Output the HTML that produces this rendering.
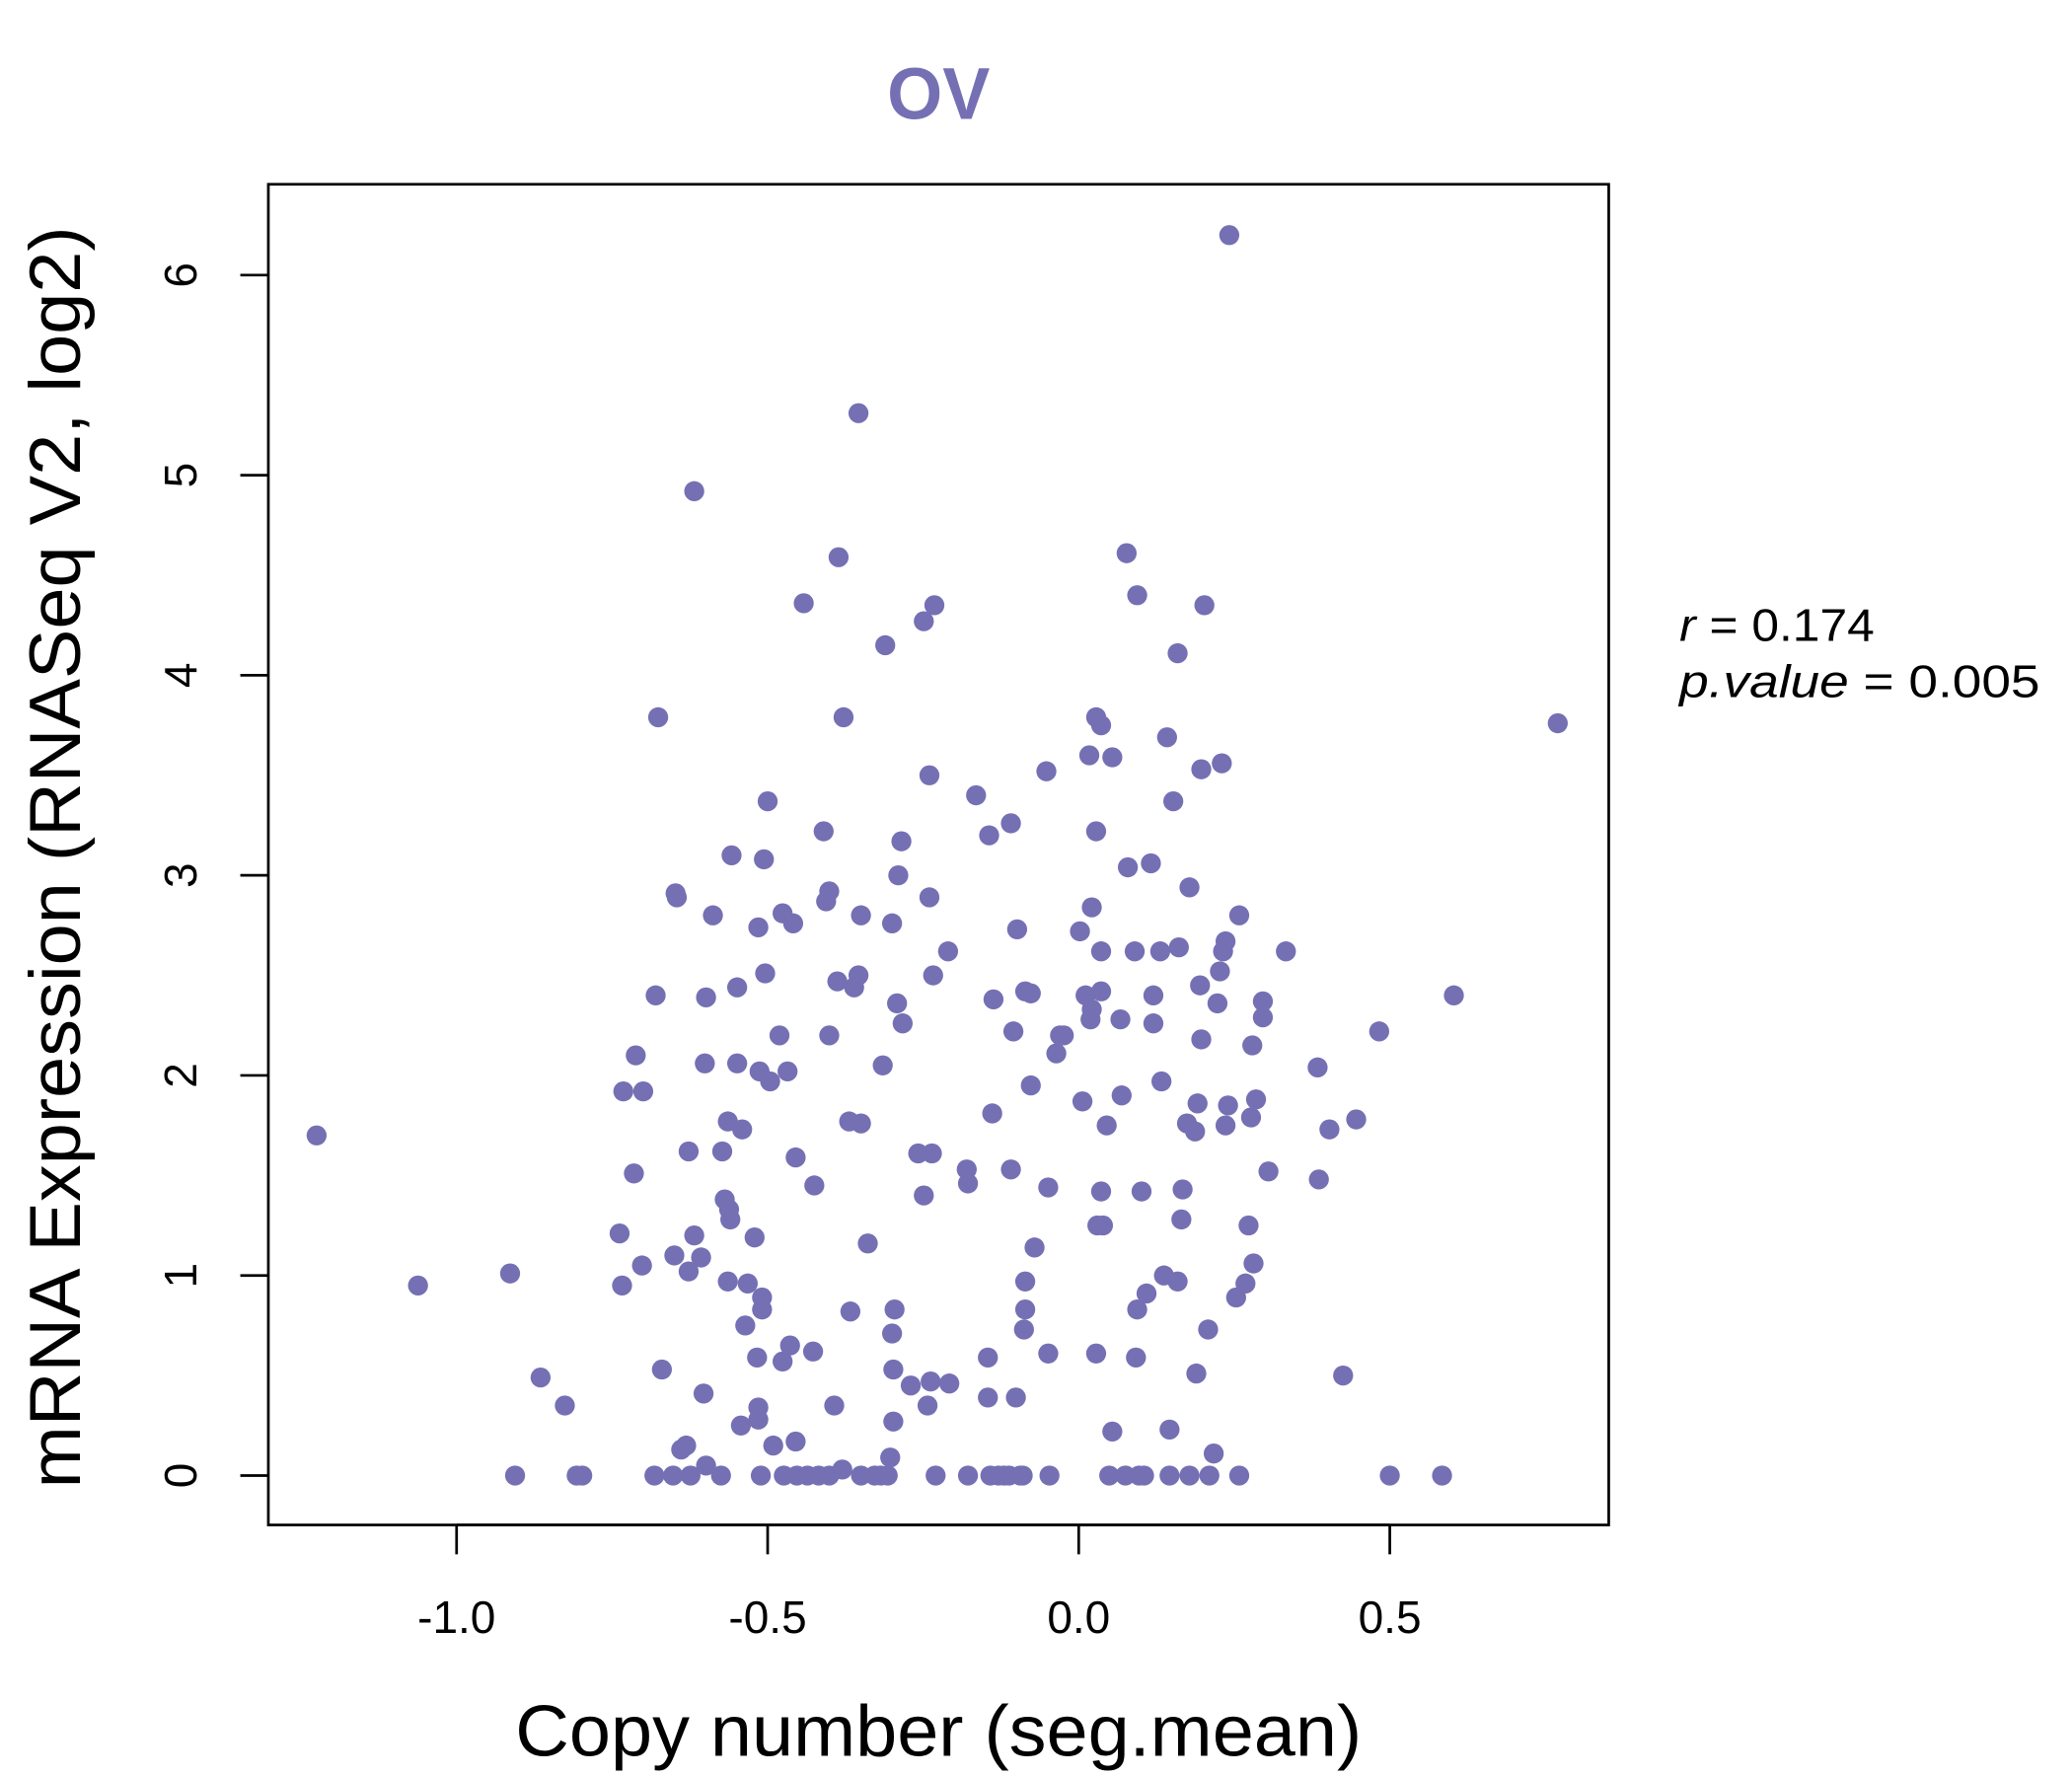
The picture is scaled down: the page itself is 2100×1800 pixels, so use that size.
<!DOCTYPE html>
<html><head><meta charset="utf-8"><style>
html,body{margin:0;padding:0;background:#fff;}
svg{display:block;font-family:"Liberation Sans",sans-serif;}
</style></head><body>
<svg id="chart" width="2100" height="1800" viewBox="0 0 1552 1330" preserveAspectRatio="none" xmlns="http://www.w3.org/2000/svg">
<rect width="1552" height="1330" fill="#fff"/>
<text x="703" y="89" text-anchor="middle" font-size="55" font-weight="bold" fill="#7570B3" textLength="77" lengthAdjust="spacingAndGlyphs">OV</text>
<rect x="201" y="138" width="1004" height="1004" fill="none" stroke="#000" stroke-width="2"/>
<g id="xaxis"></g>
<g id="yaxis"></g>
<g id="points"></g>
<text x="703" y="1315" text-anchor="middle" font-size="54" textLength="634" lengthAdjust="spacingAndGlyphs">Copy number (seg.mean)</text>
<text transform="translate(60,642) rotate(-90)" text-anchor="middle" font-size="54" textLength="945" lengthAdjust="spacingAndGlyphs">mRNA Expression (RNASeq V2, log2)</text>
<text x="1258" y="480" font-size="34" textLength="146" lengthAdjust="spacingAndGlyphs"><tspan font-style="italic">r</tspan> = 0.174</text>
<text x="1258" y="522" font-size="34" textLength="270" lengthAdjust="spacingAndGlyphs"><tspan font-style="italic">p.value</tspan> = 0.005</text>
</svg>
<script>
const xTicks = [-1.0, -0.5, 0.0, 0.5];
const xTickLabels = ["-1.0", "-0.5", "0.0", "0.5"];
const yTicks = [0, 1, 2, 3, 4, 5, 6];
const yTickLabels = ["0", "1", "2", "3", "4", "5", "6"];
const copyNumber = [-1.225,-1.062,-0.914,-0.906,-0.865,-0.826,-0.807,-0.798,-0.738,-0.734,-0.732,-0.700,-0.715,-0.712,-0.702,-0.680,-0.676,-0.682,-0.670,-0.652,-0.650,-0.648,-0.646,-0.639,-0.631,-0.627,-0.627,-0.624,-0.618,-0.618,-0.607,-0.603,-0.601,-0.599,-0.599,-0.588,-0.575,-0.573,-0.569,-0.564,-0.564,-0.562,-0.560,-0.558,-0.549,-0.549,-0.543,-0.541,-0.536,-0.532,-0.521,-0.517,-0.515,-0.515,-0.515,-0.513,-0.511,-0.509,-0.509,-0.506,-0.504,-0.500,-0.496,-0.491,-0.481,-0.476,-0.476,-0.474,-0.468,-0.464,-0.459,-0.455,-0.455,-0.453,-0.442,-0.436,-0.427,-0.425,-0.418,-0.410,-0.406,-0.401,-0.401,-0.401,-0.393,-0.388,-0.386,-0.380,-0.378,-0.369,-0.367,-0.361,-0.354,-0.354,-0.350,-0.350,-0.350,-0.339,-0.328,-0.318,-0.315,-0.311,-0.307,-0.303,-0.300,-0.300,-0.298,-0.298,-0.296,-0.292,-0.290,-0.285,-0.283,-0.270,-0.258,-0.249,-0.249,-0.243,-0.240,-0.240,-0.238,-0.236,-0.234,-0.232,-0.230,-0.210,-0.208,-0.180,-0.178,-0.178,-0.165,-0.146,-0.146,-0.144,-0.142,-0.139,-0.137,-0.129,-0.120,-0.112,-0.109,-0.109,-0.105,-0.101,-0.099,-0.094,-0.090,-0.088,-0.086,-0.086,-0.086,-0.077,-0.077,-0.071,-0.052,-0.049,-0.049,-0.047,-0.036,-0.030,-0.024,0.002,0.006,0.011,0.017,0.019,0.021,0.021,0.028,0.028,0.028,0.030,0.036,0.036,0.036,0.036,0.039,0.045,0.049,0.054,0.054,0.067,0.069,0.075,0.077,0.079,0.090,0.092,0.094,0.094,0.097,0.101,0.105,0.109,0.116,0.120,0.120,0.131,0.133,0.137,0.142,0.146,0.146,0.152,0.159,0.159,0.161,0.165,0.167,0.174,0.178,0.178,0.187,0.189,0.191,0.195,0.197,0.197,0.202,0.208,0.210,0.217,0.223,0.227,0.230,0.232,0.236,0.236,0.240,0.242,0.253,0.258,0.258,0.268,0.273,0.277,0.279,0.281,0.285,0.296,0.296,0.305,0.333,0.384,0.386,0.403,0.425,0.446,0.483,0.500,0.584,0.603,0.770];
const expression = [1.70,0.95,1.01,0,0.49,0.35,0,0,1.21,0.95,1.92,1.92,1.51,2.10,1.05,2.40,3.79,0,0.53,0,1.10,2.91,2.89,0.13,0.15,1.02,1.62,0,1.20,4.92,1.09,0.41,2.06,2.39,0.05,2.80,0,1.62,1.38,1.77,0.97,1.33,1.28,3.10,2.44,2.06,0.25,1.73,0.75,0.96,1.19,0.59,0.34,0.28,2.74,2.02,0,0.89,0.83,3.08,2.51,3.37,1.97,0.15,2.20,2.81,0.57,0,2.02,0.65,2.76,1.59,0.17,0,4.36,0,0.62,1.45,0,3.22,2.87,2.92,2.20,0,0.35,2.47,4.59,0.03,3.79,1.77,0.82,2.44,2.50,5.31,1.76,2.80,0,1.16,0,0,2.05,4.15,0,0.09,2.76,0.71,0.53,0.27,0.83,2.36,3.00,3.17,2.26,0.45,1.61,4.27,1.40,0.35,3.50,2.89,0.47,1.61,2.50,4.35,0,2.62,0.46,1.53,1.46,0,3.40,0.39,0.59,3.20,0,1.81,2.38,0,0,0,1.53,3.26,2.22,0.39,2.73,0,0,0.73,0.83,0.97,2.42,2.41,1.95,1.14,3.52,1.44,0.61,0,2.11,2.20,2.20,2.72,1.87,2.40,3.60,2.28,2.33,2.84,3.79,3.22,0.61,1.25,3.75,2.62,2.42,1.42,1.25,1.75,0,3.59,0.22,2.28,1.90,0,4.61,3.04,2.62,0.59,4.40,0.83,0,1.42,0,0.91,3.06,2.40,2.26,2.62,1.97,1.00,3.69,0,0.23,3.37,0.97,4.11,2.64,1.28,1.43,1.76,2.94,0,1.72,0.51,1.86,2.45,2.18,3.53,4.35,0.73,0,0.11,2.36,2.52,3.56,2.62,2.67,1.75,1.85,6.20,0.89,2.80,0,0.96,1.25,1.79,2.15,1.06,1.88,2.37,2.29,1.52,2.62,2.04,1.48,1.73,0.50,1.78,2.22,0,0,2.40,3.76];

const NS = "http://www.w3.org/2000/svg";
function xScale(v){ return 808 + (v - 0) * 466; }
function yScale(v){ return 1105 - v * 149.83; }

const xg = document.getElementById('xaxis');
let ax = document.createElementNS(NS,'line');


ax.setAttribute('x1', xScale(xTicks[0])); ax.setAttribute('x2', xScale(xTicks[xTicks.length-1]));
ax.setAttribute('y1',1142); ax.setAttribute('y2',1142); ax.setAttribute('stroke','#000'); ax.setAttribute('stroke-width','2');
xg.appendChild(ax);
xTicks.forEach((t,i)=>{
  const l = document.createElementNS(NS,'line');
  
  
  l.setAttribute('x1',xScale(t)); l.setAttribute('x2',xScale(t));
  l.setAttribute('y1',1142); l.setAttribute('y2',1164); l.setAttribute('stroke','#000'); l.setAttribute('stroke-width','2');
  xg.appendChild(l);
  const tx = document.createElementNS(NS,'text');
  
  
  tx.setAttribute('x',xScale(t)); tx.setAttribute('y',1223);
  tx.setAttribute('text-anchor','middle'); tx.setAttribute('font-size','34');
  tx.textContent = xTickLabels[i];
  xg.appendChild(tx);
});
const yg = document.getElementById('yaxis');
yTicks.forEach((t,i)=>{
  const l = document.createElementNS(NS,'line');
  
  
  l.setAttribute('x1',180); l.setAttribute('x2',201);
  l.setAttribute('y1',yScale(t)); l.setAttribute('y2',yScale(t)); l.setAttribute('stroke','#000'); l.setAttribute('stroke-width','2');
  yg.appendChild(l);
  const tx = document.createElementNS(NS,'text');
  
  
  tx.setAttribute('transform','translate(147,'+yScale(t)+') rotate(-90)');
  tx.setAttribute('text-anchor','middle'); tx.setAttribute('font-size','34');
  tx.textContent = yTickLabels[i];
  yg.appendChild(tx);
});
const pg = document.getElementById('points');
copyNumber.forEach((x,i)=>{
  const c = document.createElementNS(NS,'circle');
  
  
  c.setAttribute('cx',xScale(x)); c.setAttribute('cy',yScale(expression[i]));
  c.setAttribute('r',7.5); c.setAttribute('fill','#7570B3');
  pg.appendChild(c);
});
</script>
</body></html>
